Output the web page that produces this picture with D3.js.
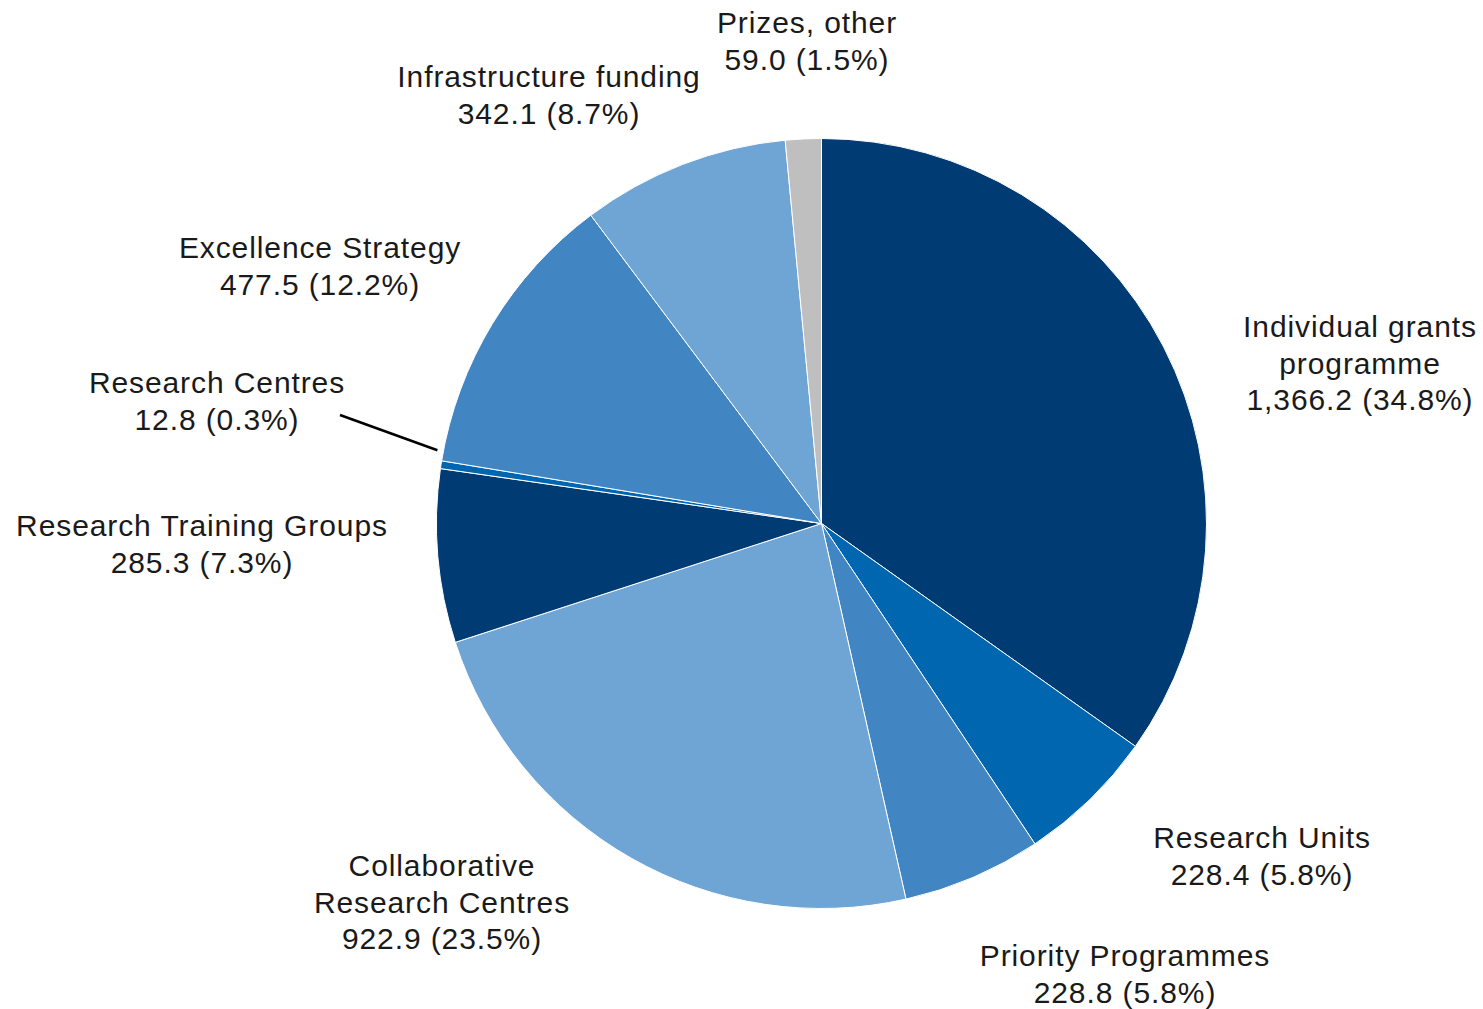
<!DOCTYPE html>
<html>
<head>
<meta charset="utf-8">
<script src="https://cdn.jsdelivr.net/npm/d3@7"></script>
<style>
  body { margin: 0; background: #fff; }
  text { font-family: 'Liberation Sans', Arial, sans-serif; fill: #1a1a1a; }
</style>
</head>
<body>
<div id="container"></div>
<script>
const categories = [
  ['Individual grants', 'programme'],
  ['Research Units'],
  ['Priority Programmes'],
  ['Collaborative', 'Research Centres'],
  ['Research Training Groups'],
  ['Research Centres'],
  ['Excellence Strategy'],
  ['Infrastructure funding'],
  ['Prizes, other']
]
const values = [1366.2, 228.4, 228.8, 922.9, 285.3, 12.8, 477.5, 342.1, 59.0]
const valueLabels = ['1,366.2 (34.8%)', '228.4 (5.8%)', '228.8 (5.8%)', '922.9 (23.5%)',
  '285.3 (7.3%)', '12.8 (0.3%)', '477.5 (12.2%)', '342.1 (8.7%)', '59.0 (1.5%)']

// layout
const w = 1483
const h = 1009
const cx = 821.5
const cy = 523.5
const r = 385
const fontSize = 30
const lineH = 36.5
const colors = ['#003b73', '#0066b0', '#4185c3', '#6fa5d4', '#003b73', '#0066b0', '#4185c3', '#6fa5d4', '#bfbfbf']
// label centre of first line
const labelPos = [
  [1360, 326], [1262, 837], [1125, 955], [442, 865], [202, 525],
  [217, 382], [320, 247], [549, 76], [807, 22]
]

const svg = d3.select('#container')
  .append('svg')
  .attr('width', w)
  .attr('height', h)

const pie = d3.pie().sort(null)
const arcs = pie(values)
const arc = d3.arc().innerRadius(0).outerRadius(r)

const g = svg.append('g')
  .attr('transform', 'translate(' + cx + ',' + cy + ')')

g.selectAll('path')
  .data(arcs)
  .enter().append('path')
  .attr('d', arc)
  .attr('fill', (d, i) => colors[i])
  .attr('stroke', '#fff')
  .attr('stroke-width', 1)

// leader line for the tiny slice
const small = arcs[5]
const mid = (small.startAngle + small.endAngle) / 2 + 0.035
const endPt = [Math.sin(mid) * (r + 6), -Math.cos(mid) * (r + 6)]
g.append('line')
  .attr('x1', 340 - cx)
  .attr('y1', 415 - cy)
  .attr('x2', endPt[0])
  .attr('y2', endPt[1])
  .attr('stroke', '#000')
  .attr('stroke-width', 2.5)

const labels = svg.selectAll('.label')
  .data(arcs)
  .enter().append('text')
  .attr('class', 'label')
  .attr('text-anchor', 'middle')
  .attr('dominant-baseline', 'central')
  .style('font-size', fontSize + 'px')
  .style('letter-spacing', '0.9px')

labels.each(function (d, i) {
  const lines = categories[i].concat([valueLabels[i]])
  const t = d3.select(this)
  lines.forEach((s, j) => {
    t.append('tspan')
      .attr('x', labelPos[i][0])
      .attr('y', labelPos[i][1] + j * lineH)
      .text(s)
  })
})
</script>
</body>
</html>
